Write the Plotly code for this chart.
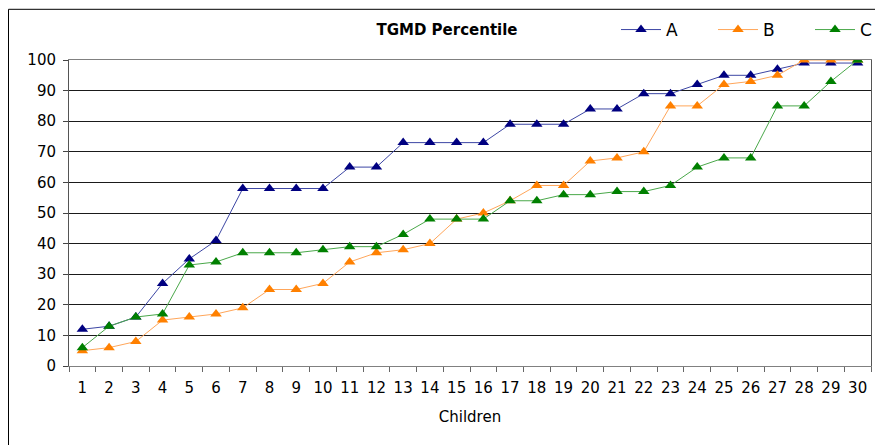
import plotly.graph_objects as go

# Children 1..30
children = list(range(1, 31))
child_labels = [str(c) for c in children]

# TGMD percentile per child for each group
series_a = [12, 13, 16, 27, 35, 41, 58, 58, 58, 58,
            65, 65, 73, 73, 73, 73, 79, 79, 79, 84,
            84, 89, 89, 92, 95, 95, 97, 99, 99, 99]
series_b = [5, 6, 8, 15, 16, 17, 19, 25, 25, 27,
            34, 37, 38, 40, 48, 50, 54, 59, 59, 67,
            68, 70, 85, 85, 92, 93, 95, 100, 100, 100]
series_c = [6, 13, 16, 17, 33, 34, 37, 37, 37, 38,
            39, 39, 43, 48, 48, 48, 54, 54, 56, 56,
            57, 57, 59, 65, 68, 68, 85, 85, 93, 100]

series_names = ["A", "B", "C"]
marker_colors = ["#000080", "#ff8000", "#008000"]
line_colors = ["#3c46a4", "#ffa65a", "#4aa84a"]

FONT = "DejaVu Sans"

fig = go.Figure()
for name, values, mc, lc in zip(series_names, [series_a, series_b, series_c],
                                marker_colors, line_colors):
    fig.add_trace(go.Scatter(
        x=children, y=values, name=name, mode="lines+markers",
        line=dict(color=lc, width=1),
        marker=dict(symbol="triangle-up", size=10, color=mc,
                    line=dict(width=0)),
    ))

W, H = 875, 445
ML, MR, MT, MB = 69, 4, 60, 79
pw, ph = W - ML - MR, H - MT - MB


def px_x(p):
    return (p - ML) / pw


def px_y(p):
    return (H - MB - p) / ph


# tick marks sit between children, labels under each child
boundaries = [c - 0.5 for c in children] + [children[-1] + 0.5]

fig.update_layout(
    width=W, height=H,
    margin=dict(l=ML, r=MR, t=MT, b=MB, pad=0, autoexpand=False),
    paper_bgcolor="white", plot_bgcolor="white",
    font=dict(family=FONT, size=15, color="black"),
    title=dict(text="<b>TGMD Percentile</b>", font=dict(family=FONT, size=15, color="black"),
               xref="paper", x=px_x(447), xanchor="center",
               yref="container", y=1 - 30 / H, yanchor="middle"),
    showlegend=True,
    legend=dict(orientation="h", xref="paper", yref="paper",
                x=px_x(616), xanchor="left", y=px_y(30), yanchor="middle",
                font=dict(family=FONT, size=17, color="black"),
                bgcolor="rgba(0,0,0,0)", borderwidth=0,
                entrywidth=42, entrywidthmode="pixels", itemwidth=40,
                tracegroupgap=0),
    xaxis=dict(range=[0.5, 30.5], tickmode="array", tickvals=children,
               ticktext=child_labels, ticks="", tickangle=0,
               ticklabelstandoff=8,
               minor=dict(tickmode="array", tickvals=boundaries, ticks="outside",
                          ticklen=5, tickcolor="#666", showgrid=False),
               showline=True, linecolor="#808080", linewidth=1, mirror=True,
               showgrid=False, zeroline=False,
               tickfont=dict(family=FONT, size=15),
               title=dict(text="Children", font=dict(family=FONT, size=15), standoff=15)),
    yaxis=dict(range=[0, 100], dtick=10, tick0=0,
               ticks="outside", ticklen=5, tickcolor="#444",
               showline=True, linecolor="#555", linewidth=1, mirror=True,
               showgrid=True, gridcolor="#1a1a1a", gridwidth=1, zeroline=False,
               tickfont=dict(family=FONT, size=15), ticklabelstandoff=4),
    shapes=[dict(type="rect", xref="paper", yref="paper",
                 x0=px_x(8.5), x1=1.05, y0=-0.4, y1=px_y(9.3),
                 line=dict(color="black", width=1), fillcolor="rgba(0,0,0,0)",
                 layer="below")],
)

fig.write_html("out.html")
